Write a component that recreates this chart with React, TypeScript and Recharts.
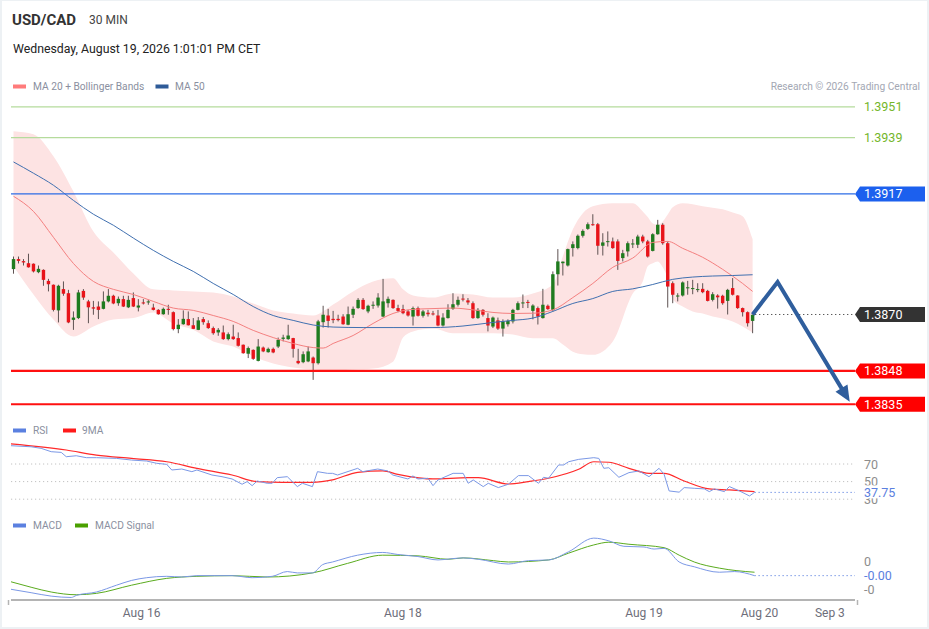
import { Area, Bar, ComposedChart, Line, ReferenceLine, XAxis, YAxis } from "recharts"

const W = 929
const SLOTS = 169 // 30-min slots, the last ones stay empty for the forecast

// [open, high, low, close]
const ohlc: [number, number, number, number][] = [
  [1.38877, 1.38926, 1.38859, 1.38916], [1.38916, 1.38926, 1.38899, 1.38909], [1.38908, 1.38916, 1.38891, 1.38903],
  [1.389, 1.38937, 1.38883, 1.38884], [1.38898, 1.38899, 1.38864, 1.38868], [1.38865, 1.38891, 1.38861, 1.38878],
  [1.38874, 1.38876, 1.38812, 1.38835], [1.38831, 1.38839, 1.3879, 1.38818], [1.38816, 1.38817, 1.38712, 1.38718],
  [1.38716, 1.38816, 1.38669, 1.38812], [1.38799, 1.38829, 1.38773, 1.38781], [1.38783, 1.38796, 1.38666, 1.38669],
  [1.38679, 1.38712, 1.3864, 1.38688], [1.38686, 1.38796, 1.38682, 1.38786], [1.38792, 1.38799, 1.38757, 1.38766],
  [1.38751, 1.38757, 1.38666, 1.38728], [1.38728, 1.38753, 1.38699, 1.38723], [1.38731, 1.38751, 1.38682, 1.38718],
  [1.38722, 1.3879, 1.3872, 1.38751], [1.38751, 1.38799, 1.38747, 1.38773], [1.38773, 1.38777, 1.3874, 1.38743],
  [1.38744, 1.3877, 1.38734, 1.38761], [1.3876, 1.38773, 1.38729, 1.38731], [1.38728, 1.38773, 1.38725, 1.38757],
  [1.38764, 1.38786, 1.38729, 1.38731], [1.38727, 1.3876, 1.38712, 1.38735], [1.38747, 1.3876, 1.38739, 1.38743],
  [1.38747, 1.38757, 1.38738, 1.38751], [1.38727, 1.38742, 1.38716, 1.38718], [1.38718, 1.38721, 1.38699, 1.38701],
  [1.38701, 1.38727, 1.38699, 1.38722], [1.38722, 1.38738, 1.38699, 1.38718], [1.38709, 1.38712, 1.38638, 1.38643],
  [1.38643, 1.38682, 1.38627, 1.3866], [1.38662, 1.38716, 1.3866, 1.38683], [1.38682, 1.38712, 1.38657, 1.38658],
  [1.38658, 1.38686, 1.38643, 1.38644], [1.3864, 1.3869, 1.38639, 1.38677], [1.38682, 1.3869, 1.3866, 1.3867],
  [1.38666, 1.38677, 1.38644, 1.38647], [1.38647, 1.38653, 1.38621, 1.38627], [1.3863, 1.38647, 1.38617, 1.3864],
  [1.3863, 1.38657, 1.38601, 1.38604], [1.38604, 1.3863, 1.38599, 1.38623], [1.38614, 1.3866, 1.38601, 1.38604],
  [1.38608, 1.3863, 1.38575, 1.38578], [1.38582, 1.38583, 1.38547, 1.38549], [1.38547, 1.38575, 1.3853, 1.38569],
  [1.38562, 1.38564, 1.38523, 1.38527], [1.38519, 1.38604, 1.38517, 1.38575], [1.38571, 1.38575, 1.38553, 1.38556],
  [1.38553, 1.38571, 1.38551, 1.38566], [1.38566, 1.38571, 1.38549, 1.38552], [1.38575, 1.3861, 1.38569, 1.38601],
  [1.38605, 1.38621, 1.38595, 1.3861], [1.38604, 1.3866, 1.38601, 1.38618], [1.38608, 1.38609, 1.38532, 1.38566],
  [1.38519, 1.38566, 1.38506, 1.3851], [1.38514, 1.38556, 1.3851, 1.38545], [1.38517, 1.38575, 1.38514, 1.38556],
  [1.38532, 1.38536, 1.38445, 1.3851], [1.3851, 1.38679, 1.38505, 1.38673], [1.3867, 1.38734, 1.38649, 1.38699],
  [1.38696, 1.38722, 1.38649, 1.38675], [1.38683, 1.38714, 1.38666, 1.38678], [1.38683, 1.38699, 1.38673, 1.38678],
  [1.38692, 1.38701, 1.3866, 1.38662], [1.3866, 1.38731, 1.38658, 1.38701], [1.38699, 1.38731, 1.38686, 1.38722],
  [1.38725, 1.38764, 1.38722, 1.38757], [1.38757, 1.38764, 1.38718, 1.38721], [1.38712, 1.38738, 1.38705, 1.38734],
  [1.38735, 1.38751, 1.38722, 1.38738], [1.38735, 1.38783, 1.38727, 1.38766], [1.38692, 1.38839, 1.3869, 1.38751],
  [1.38744, 1.3877, 1.38727, 1.38761], [1.38757, 1.38759, 1.38722, 1.38725], [1.38725, 1.38738, 1.38709, 1.38714],
  [1.38721, 1.38738, 1.38701, 1.38705], [1.38712, 1.38718, 1.38692, 1.38696], [1.38692, 1.38731, 1.38657, 1.38725],
  [1.38725, 1.38731, 1.38692, 1.38695], [1.38695, 1.38718, 1.38688, 1.38712], [1.38707, 1.38718, 1.38692, 1.38701],
  [1.38704, 1.38714, 1.38696, 1.38701], [1.38696, 1.38718, 1.38654, 1.38657], [1.38657, 1.38705, 1.38653, 1.38688],
  [1.38686, 1.3874, 1.38684, 1.38718], [1.38722, 1.38783, 1.38718, 1.3874], [1.38738, 1.3877, 1.38731, 1.38757],
  [1.38762, 1.38779, 1.38751, 1.38759], [1.38755, 1.38764, 1.38738, 1.38747], [1.38744, 1.38751, 1.38683, 1.38686],
  [1.38686, 1.38725, 1.38683, 1.38718], [1.38718, 1.38721, 1.38692, 1.38699], [1.38686, 1.38705, 1.38634, 1.38657],
  [1.38653, 1.38692, 1.38647, 1.38688], [1.38677, 1.38688, 1.3864, 1.38645], [1.38645, 1.38681, 1.38614, 1.38673],
  [1.38662, 1.38681, 1.38653, 1.38675], [1.38673, 1.38722, 1.38665, 1.38718], [1.38718, 1.38751, 1.38716, 1.38744],
  [1.38744, 1.38778, 1.38725, 1.38747], [1.38749, 1.38757, 1.38725, 1.38745], [1.38714, 1.3874, 1.38681, 1.38735],
  [1.38725, 1.38731, 1.38661, 1.38692], [1.38686, 1.388, 1.38684, 1.38738], [1.38734, 1.38739, 1.38718, 1.38721],
  [1.38718, 1.38868, 1.38712, 1.38857], [1.38857, 1.38955, 1.38813, 1.38907], [1.389, 1.38907, 1.38852, 1.38906],
  [1.38891, 1.38957, 1.38887, 1.38955], [1.38959, 1.38985, 1.38926, 1.38974], [1.38959, 1.39012, 1.38954, 1.39007],
  [1.39007, 1.39032, 1.39, 1.39026], [1.39034, 1.39059, 1.3903, 1.39052], [1.39052, 1.39091, 1.39046, 1.3905],
  [1.39052, 1.39057, 1.38933, 1.38968], [1.38968, 1.39017, 1.3893, 1.38981], [1.38984, 1.39024, 1.38965, 1.38986],
  [1.38985, 1.39, 1.38956, 1.38959], [1.38985, 1.38993, 1.38874, 1.38909], [1.3892, 1.38952, 1.38907, 1.38939],
  [1.38946, 1.38985, 1.38926, 1.38978], [1.38974, 1.38994, 1.38959, 1.38977], [1.38972, 1.39011, 1.38959, 1.39004],
  [1.39004, 1.39011, 1.38978, 1.38985], [1.38985, 1.38991, 1.38922, 1.38926], [1.38948, 1.39017, 1.38946, 1.39013],
  [1.39013, 1.39069, 1.39011, 1.3905], [1.3905, 1.39056, 1.38972, 1.38978], [1.38978, 1.38985, 1.38727, 1.38809],
  [1.38822, 1.38829, 1.38744, 1.38777], [1.3877, 1.38783, 1.38751, 1.38774], [1.38774, 1.38829, 1.3877, 1.38825],
  [1.38803, 1.38831, 1.38777, 1.38806], [1.388, 1.38835, 1.38779, 1.38803], [1.38796, 1.38822, 1.38787, 1.38799],
  [1.388, 1.38822, 1.38783, 1.38787], [1.38792, 1.38796, 1.38751, 1.38753], [1.38757, 1.38787, 1.38751, 1.38779],
  [1.38774, 1.38779, 1.38723, 1.38767], [1.38773, 1.38777, 1.38738, 1.38744], [1.38753, 1.388, 1.387, 1.38796],
  [1.38803, 1.38842, 1.38774, 1.38777], [1.38774, 1.38775, 1.38722, 1.38725], [1.38725, 1.38727, 1.38692, 1.38709],
  [1.38709, 1.38712, 1.38653, 1.38666], [1.38675, 1.387, 1.38627, 1.38699],
]

// Bollinger bands, read at these candle slots
const bandIdx = [0, 4, 8, 12, 16, 20, 24, 28, 32, 36, 40, 44, 48, 52, 56, 60, 64, 68, 72, 76, 78, 80, 84, 88, 92, 96, 100, 104, 108, 110, 112, 114, 116, 120, 124, 126, 127, 128, 129, 130, 131, 132, 134, 136, 138, 140, 142, 144, 146, 148]
const bbUpper = [1.39415, 1.39403, 1.39317, 1.3918, 1.39024, 1.38942, 1.3886, 1.38798, 1.38794, 1.3879, 1.38786, 1.3877, 1.38743, 1.38716, 1.38704, 1.38696, 1.38739, 1.3879, 1.38829, 1.38841, 1.38798, 1.38774, 1.38766, 1.38782, 1.38778, 1.38766, 1.38766, 1.38782, 1.38817, 1.38927, 1.39032, 1.39095, 1.39122, 1.39134, 1.39134, 1.39102, 1.3908, 1.39055, 1.3905, 1.39063, 1.3909, 1.39118, 1.39134, 1.3913, 1.39122, 1.39116, 1.3911, 1.39098, 1.39083, 1.38993]
const bbLower = [1.38888, 1.38778, 1.3868, 1.38614, 1.38653, 1.3868, 1.38686, 1.38708, 1.38665, 1.3864, 1.38595, 1.38575, 1.38536, 1.38509, 1.38493, 1.38485, 1.38481, 1.38485, 1.38489, 1.38516, 1.3861, 1.38634, 1.38645, 1.38627, 1.38627, 1.38627, 1.38622, 1.38607, 1.38607, 1.38583, 1.38555, 1.38545, 1.38543, 1.38595, 1.38782, 1.38829, 1.38888, 1.389, 1.38907, 1.38884, 1.38841, 1.38759, 1.38731, 1.38712, 1.38704, 1.38692, 1.38684, 1.38673, 1.38653, 1.3863]

// [slot, value]
const ma20: [number, number][] = [
  [0, 1.39161], [4, 1.39102], [8, 1.39001], [12, 1.38899], [16, 1.38829], [20, 1.38798], [24, 1.38778], [28, 1.38751],
  [32, 1.38725], [36, 1.38716], [40, 1.38696], [44, 1.38673], [48, 1.38638], [52, 1.3861], [56, 1.38587], [60, 1.38571],
  [62, 1.38569], [64, 1.38587], [68, 1.38618], [72, 1.38665], [76, 1.38704], [80, 1.3872], [84, 1.38723], [88, 1.38725],
  [92, 1.38718], [96, 1.38708], [100, 1.38704], [104, 1.38705], [108, 1.38718], [112, 1.38766], [116, 1.38821],
  [120, 1.38884], [124, 1.3892], [128, 1.38981], [131, 1.38985], [134, 1.38958], [138, 1.38923], [142, 1.38876],
  [146, 1.38821], [148, 1.3879],
]
const ma50: [number, number][] = [
  [0, 1.39295], [4, 1.39251], [8, 1.39204], [12, 1.39145], [16, 1.39091], [20, 1.39048], [24, 1.38998], [28, 1.3895],
  [32, 1.38907], [36, 1.38868], [40, 1.38821], [44, 1.38778], [48, 1.38731], [52, 1.38696], [56, 1.38677], [60, 1.38659],
  [64, 1.38651], [70, 1.38649], [76, 1.38649], [84, 1.38649], [90, 1.38655], [96, 1.38669], [100, 1.38677], [104, 1.38686],
  [108, 1.38712], [112, 1.38743], [116, 1.38762], [120, 1.3879], [124, 1.388], [128, 1.38817], [132, 1.38837],
  [136, 1.38846], [140, 1.3885], [144, 1.38852], [148, 1.38855],
]

// forecast path
const fcIdx = [148, 153, 166]
const fcVals = [1.387, 1.38827, 1.38406]

const levelVals = [1.3951, 1.3939, 1.3917, 1.3848, 1.3835]
const lastPrice = 1.387

const rsi: [number, number][] = [
  [0, 90.8], [4, 89.6], [6, 87.8], [8, 84.0], [10, 83.2], [11, 78.3], [13, 79.4], [15, 77.2], [17, 77.2], [21, 76.4],
  [24, 74.5], [27, 73.4], [29, 70.8], [31, 69.6], [32, 63.2], [34, 64.3], [36, 61.3], [37, 63.2], [40, 57.5], [42, 55.6],
  [44, 53.0], [46, 47.0], [47, 50.0], [48, 45.4], [49, 50.7], [51, 48.1], [52, 48.1], [53, 54.5], [55, 55.6], [57, 44.3],
  [58, 48.1], [60, 44.3], [61, 61.3], [63, 59.4], [64, 59.4], [65, 57.5], [69, 65.1], [70, 61.3], [73, 64.3], [75, 62.1],
  [76, 57.5], [79, 53.0], [80, 56.4], [81, 53.0], [83, 53.8], [84, 45.4], [85, 51.9], [88, 59.4], [90, 59.4], [91, 48.1],
  [92, 51.9], [94, 44.3], [95, 48.1], [97, 43.2], [99, 47.0], [101, 56.8], [103, 56.8], [105, 48.1], [106, 54.9],
  [107, 53.8], [109, 68.9], [110, 68.9], [111, 72.6], [113, 75.3], [116, 77.2], [117, 76.4], [118, 65.1], [119, 65.8],
  [121, 54.9], [123, 60.2], [125, 62.1], [127, 55.6], [129, 65.1], [130, 58.3], [131, 39.4], [133, 38.0], [134, 43.2],
  [136, 42.4], [138, 41.7], [139, 38.6], [140, 41.7], [142, 38.6], [143, 44.3], [145, 39.4], [147, 33.7], [148, 37.75],
]
const rsiMa: [number, number][] = [
  [0, 93.0], [11, 85.9], [17, 80.2], [24, 76.4], [31, 72.6], [37, 65.1], [44, 57.5], [49, 50.0], [54, 49.2], [60, 49.2],
  [64, 51.9], [69, 60.6], [74, 62.1], [77, 58.3], [84, 53.0], [91, 54.5], [93, 54.5], [99, 47.3], [103, 50.0], [107, 53.8],
  [113, 64.0], [116, 72.6], [119, 72.0], [123, 65.1], [127, 59.4], [130, 59.4], [134, 50.7], [139, 41.7], [143, 40.5],
  [148, 38.6],
]
const rsiGrid = [70, 50, 30]

// MACD in pips
const macd: [number, number][] = [
  [0, -0.4], [4, -0.45], [8, -0.5], [12, -0.52], [13, -0.49], [17, -0.44], [21, -0.34], [24, -0.27], [27, -0.23],
  [31, -0.21], [34, -0.22], [37, -0.2], [44, -0.2], [48, -0.23], [52, -0.21], [55, -0.14], [57, -0.16], [60, -0.16],
  [62, -0.04], [64, 0.0], [69, 0.1], [74, 0.14], [77, 0.11], [81, 0.08], [85, 0.03], [88, 0.05], [90, 0.06], [93, 0.04],
  [99, -0.03], [103, 0.02], [107, 0.03], [111, 0.15], [116, 0.35], [119, 0.31], [122, 0.23], [126, 0.22], [128, 0.19],
  [130, 0.2], [133, 0.0], [136, -0.07], [141, -0.15], [144, -0.14], [148, -0.2],
]
const macdSignal: [number, number][] = [
  [0, -0.29], [4, -0.37], [8, -0.44], [13, -0.48], [17, -0.46], [24, -0.34], [31, -0.24], [37, -0.21], [44, -0.2],
  [51, -0.22], [60, -0.16], [67, -0.02], [74, 0.1], [81, 0.09], [87, 0.04], [90, 0.06], [96, 0.02], [99, 0.0],
  [107, 0.03], [111, 0.13], [116, 0.25], [119, 0.29], [123, 0.26], [130, 0.21], [133, 0.1], [136, 0.0], [141, -0.09],
  [148, -0.15],
]
const macdTicks = [0, -0.4]

const tickIdx = [26, 78, 126, 149, 163]
const tickLabels = ["Aug 16", "Aug 18", "Aug 19", "Aug 20", "Sep 3"]

type Row = { [k: string]: number | undefined }

const rows: Row[] = Array.from({ length: SLOTS }, (_, i) => {
  const row: Row = { i }
  const k = ohlc[i]
  if (k) {
    row.o = k[0]
    row.h = k[1]
    row.l = k[2]
    row.c = k[3]
  }
  return row
})
bandIdx.forEach((i, n) => {
  rows[i].bbU = bbUpper[n]
  rows[i].bbL = bbLower[n]
})
ma20.forEach(([i, v]) => (rows[i].ma20 = v))
ma50.forEach(([i, v]) => (rows[i].ma50 = v))
fcIdx.forEach((i, n) => (rows[i].fc = fcVals[n]))
rsi.forEach(([i, v]) => (rows[i].rsi = v))
rsiMa.forEach(([i, v]) => (rows[i].rsiMa = v))
macd.forEach(([i, v]) => (rows[i].macd = v))
macdSignal.forEach(([i, v]) => (rows[i].sig = v))

const rsiLast = rsi[rsi.length - 1][1]
const macdLast = macd[macd.length - 1][1]
const lastSlot = ohlc.length - 1

const BLUE = "#5b80e0"
const GREY = "#8d8d8d"
const ARROW = "#2f5e9d"

function Candle(props: any) {
  const { x, y, width, height, payload } = props
  if (!payload || payload.h == null) return <g />
  const { o, h, l, c } = payload
  const top = Math.min(y, y + height)
  const span = Math.abs(height)
  const k = span / (h - l)
  const cx = x + width / 2
  const bodyTop = top + (h - Math.max(o, c)) * k
  const bodyH = Math.max(1, Math.abs(o - c) * k)
  return (
    <g>
      <line x1={cx} x2={cx} y1={top} y2={top + span} stroke="#5e5252" strokeWidth={1} />
      <rect x={cx - 1.7} y={bodyTop} width={3.4} height={bodyH} fill={c >= o ? "#1f7b1f" : "#e8141a"} />
    </g>
  )
}

// label drawn in the right-hand margin, next to a horizontal level
function Tag({ viewBox, txt, fg, bg, clear }: any) {
  if (!viewBox) return null
  const x = viewBox.x + viewBox.width
  const y = viewBox.y
  return (
    <g>
      {bg && <path d={`M${x} ${y}L${x + 5} ${y - 7.5}H${x + 70}V${y + 7.5}H${x + 5}Z`} fill={bg} />}
      {clear && <rect x={x + 7} y={y - 7} width={40} height={13} fill="#fff" />}
      <text x={x + 9} y={y + 4.5} fontSize={12.5} fill={fg}>
        {txt}
      </text>
    </g>
  )
}

const seen: Record<number, { x: number; y: number }> = {}
function ArrowDot(props: any) {
  const { cx, cy, payload } = props
  if (!payload || payload.fc == null || cx == null || cy == null) return <g key={props.key} />
  seen[payload.i] = { x: cx, y: cy }
  const prev = seen[fcIdx[fcIdx.length - 2]]
  if (payload.i !== fcIdx[fcIdx.length - 1] || !prev) return <g key={props.key} />
  const dx = cx - prev.x
  const dy = cy - prev.y
  const len = Math.hypot(dx, dy)
  const ux = dx / len
  const uy = dy / len
  const bx = cx - ux * 2
  const by = cy - uy * 2
  const pts = [
    [cx + ux * 14, cy + uy * 14],
    [bx - uy * 7, by + ux * 7],
    [bx + uy * 7, by - ux * 7],
  ]
  return <polygon key={props.key} points={pts.map((p) => p.join(",")).join(" ")} fill={ARROW} />
}

function DateTick({ x, y, payload }: any) {
  if (payload.value === 0 || payload.value === SLOTS - 1) {
    // short end marks of the axis line
    const ex = payload.value === 0 ? x - 2.5 : x + 2.5
    return <line x1={ex} x2={ex} y1={y - 8} y2={y - 3} stroke="#b4b4b4" strokeWidth={1.5} />
  }
  const n = tickIdx.indexOf(payload.value)
  return (
    <text x={x} y={y + 9} textAnchor="middle" fontSize={12} fill="#6e6e7a">
      {tickLabels[n]}
    </text>
  )
}

const margin = { left: 11, right: 74 }

function PriceChart() {
  return (
    <ComposedChart width={W} height={420} data={rows} margin={{ ...margin, top: 95, bottom: 5 }}>
      <XAxis dataKey="i" hide />
      <YAxis hide domain={[1.38308, 1.39556]} allowDataOverflow />
      <Area
        dataKey={(d: Row) => (d.bbU == null ? [null, null] : [d.bbL, d.bbU])}
        type="monotone"
        stroke="none"
        fill="#fde3e3"
        fillOpacity={1}
        connectNulls
        isAnimationActive={false}
      />
      <Line dataKey="ma20" type="monotone" stroke="#f48080" strokeWidth={1} dot={false} connectNulls isAnimationActive={false} />
      <Line dataKey="ma50" type="monotone" stroke="#4070b0" strokeWidth={1} dot={false} connectNulls isAnimationActive={false} />
      <ReferenceLine y={levelVals[0]} stroke="#b5db9c" strokeWidth={1.3} label={<Tag txt={levelVals[0].toFixed(4)} fg="#74b62a" />} />
      <ReferenceLine y={levelVals[1]} stroke="#b5db9c" strokeWidth={1.3} label={<Tag txt={levelVals[1].toFixed(4)} fg="#74b62a" />} />
      <ReferenceLine y={levelVals[2]} stroke="#2c6de6" strokeWidth={1.3} label={<Tag txt={levelVals[2].toFixed(4)} fg="#fff" bg="#1c60ee" />} />
      <ReferenceLine y={levelVals[3]} stroke="#ff1010" strokeWidth={2.2} label={<Tag txt={levelVals[3].toFixed(4)} fg="#fff" bg="#ff0000" />} />
      <ReferenceLine y={levelVals[4]} stroke="#ff1010" strokeWidth={2} label={<Tag txt={levelVals[4].toFixed(4)} fg="#fff" bg="#ff0000" />} />
      <ReferenceLine y={lastPrice} stroke="none" label={<Tag txt={lastPrice.toFixed(4)} fg="#fff" bg="#333333" />} />
      <ReferenceLine
        segment={[{ x: lastSlot, y: lastPrice }, { x: SLOTS - 1, y: lastPrice }]}
        position="end"
        stroke="#444"
        strokeDasharray="1.2 2.8"
      />
      <Bar
        dataKey={(d: Row) => (d.h == null ? null : [d.l, d.h])}
        shape={(p: any) => <Candle {...p} />}
        isAnimationActive={false}
      />
      <Line
        dataKey="fc"
        type="linear"
        stroke={ARROW}
        strokeWidth={4}
        strokeLinejoin="miter"
        dot={ArrowDot}
        activeDot={false}
        connectNulls
        isAnimationActive={false}
      />
    </ComposedChart>
  )
}

function RsiChart() {
  return (
    <ComposedChart width={W} height={80} data={rows} margin={{ ...margin, top: 10, bottom: 5 }}>
      <XAxis dataKey="i" hide />
      <YAxis hide domain={[23.4, 97.3]} allowDataOverflow />
      {rsiGrid.map((v) => (
        <ReferenceLine key={v} y={v} stroke="#c2c2c2" strokeDasharray="1.2 2.8" label={<Tag txt={String(v)} fg={GREY} />} />
      ))}
      <ReferenceLine y={rsiLast} stroke="none" label={<Tag txt={rsiLast.toFixed(2)} fg={BLUE} clear />} />
      <ReferenceLine
        segment={[{ x: lastSlot, y: rsiLast }, { x: SLOTS - 1, y: rsiLast }]}
        position="end"
        stroke={BLUE}
        strokeDasharray="1.2 2.8"
      />
      <Line dataKey="rsiMa" type="monotone" stroke="#ff2a2a" strokeWidth={1.2} dot={false} connectNulls isAnimationActive={false} />
      <Line dataKey="rsi" type="linear" stroke="#7b98e6" strokeWidth={1} dot={false} connectNulls isAnimationActive={false} />
    </ComposedChart>
  )
}

function MacdChart() {
  return (
    <ComposedChart width={W} height={105} data={rows} margin={{ ...margin, top: 10, bottom: 0 }}>
      <XAxis
        dataKey="i"
        ticks={[0, ...tickIdx, SLOTS - 1]}
        interval={0}
        tick={<DateTick />}
        tickLine={false}
        axisLine={{ stroke: "#b4b4b4", strokeWidth: 2 }}
        height={25}
      />
      <YAxis hide domain={[-0.557, 0.469]} allowDataOverflow />
      {macdTicks.map((v) => (
        <ReferenceLine key={v} y={v} stroke="none" label={<Tag txt={(v * 1e-4).toFixed(0)} fg={GREY} />} />
      ))}
      <ReferenceLine y={macdLast} stroke="none" label={<Tag txt={(macdLast * 1e-4).toFixed(2)} fg={BLUE} />} />
      <ReferenceLine
        segment={[{ x: lastSlot, y: macdLast }, { x: SLOTS - 1, y: macdLast }]}
        position="end"
        stroke={BLUE}
        strokeDasharray="1.2 2.8"
      />
      <Line dataKey="sig" type="monotone" stroke="#5aab1e" strokeWidth={1} dot={false} connectNulls isAnimationActive={false} />
      <Line dataKey="macd" type="monotone" stroke="#7b98e6" strokeWidth={1} dot={false} connectNulls isAnimationActive={false} />
    </ComposedChart>
  )
}

function Texts() {
  const legend = { fontSize: 10.2, fill: "#8a8fa0" }
  return (
    <svg width={W} height={629} style={{ position: "absolute", left: 0, top: 0, pointerEvents: "none" }}>
      <text x={12} y={25} fontSize={15} fontWeight="bold" fill="#333">USD/CAD</text>
      <text x={89} y={23.5} fontSize={12} fill="#444">30 MIN</text>
      <text x={13} y={53} fontSize={12.3} fill="#222">Wednesday, August 19, 2026 1:01:01 PM CET</text>

      <rect x={13} y={84.5} width={13} height={4} fill="#ff7b7b" />
      <text x={33} y={90} {...legend}>MA 20 + Bollinger Bands</text>
      <rect x={155.5} y={84.5} width={13} height={4} fill="#2e5b98" />
      <text x={175} y={90} {...legend}>MA 50</text>
      <text x={920} y={90} textAnchor="end" fontSize={10.2} fill="#a3a7b3">Research © 2026 Trading Central</text>

      <rect x={13} y={428.5} width={13} height={4} fill={BLUE} />
      <text x={33} y={434} {...legend}>RSI</text>
      <rect x={63} y={428.5} width={13} height={4} fill="#ff1a1a" />
      <text x={82} y={434} {...legend}>9MA</text>

      <rect x={13} y={523.5} width={13} height={4} fill={BLUE} />
      <text x={33} y={529} {...legend}>MACD</text>
      <rect x={75} y={523.5} width={13} height={4} fill="#4aa000" />
      <text x={95} y={529} {...legend}>MACD Signal</text>
    </svg>
  )
}

export default function App() {
  return (
    <div
      style={{
        position: "absolute",
        left: 0,
        top: 0,
        width: W,
        height: 629,
        background: "#edf1f4",
        fontFamily: "Roboto, Arial, sans-serif",
        overflow: "hidden",
      }}
    >
      <div style={{ position: "absolute", left: 2, top: 1, right: 2, bottom: 2, background: "#fff" }} />
      <div style={{ position: "absolute", left: 0, top: 0 }}>
        <PriceChart />
      </div>
      <div style={{ position: "absolute", left: 0, top: 430 }}>
        <RsiChart />
      </div>
      <div style={{ position: "absolute", left: 0, top: 520 }}>
        <MacdChart />
      </div>
      <Texts />
    </div>
  )
}
